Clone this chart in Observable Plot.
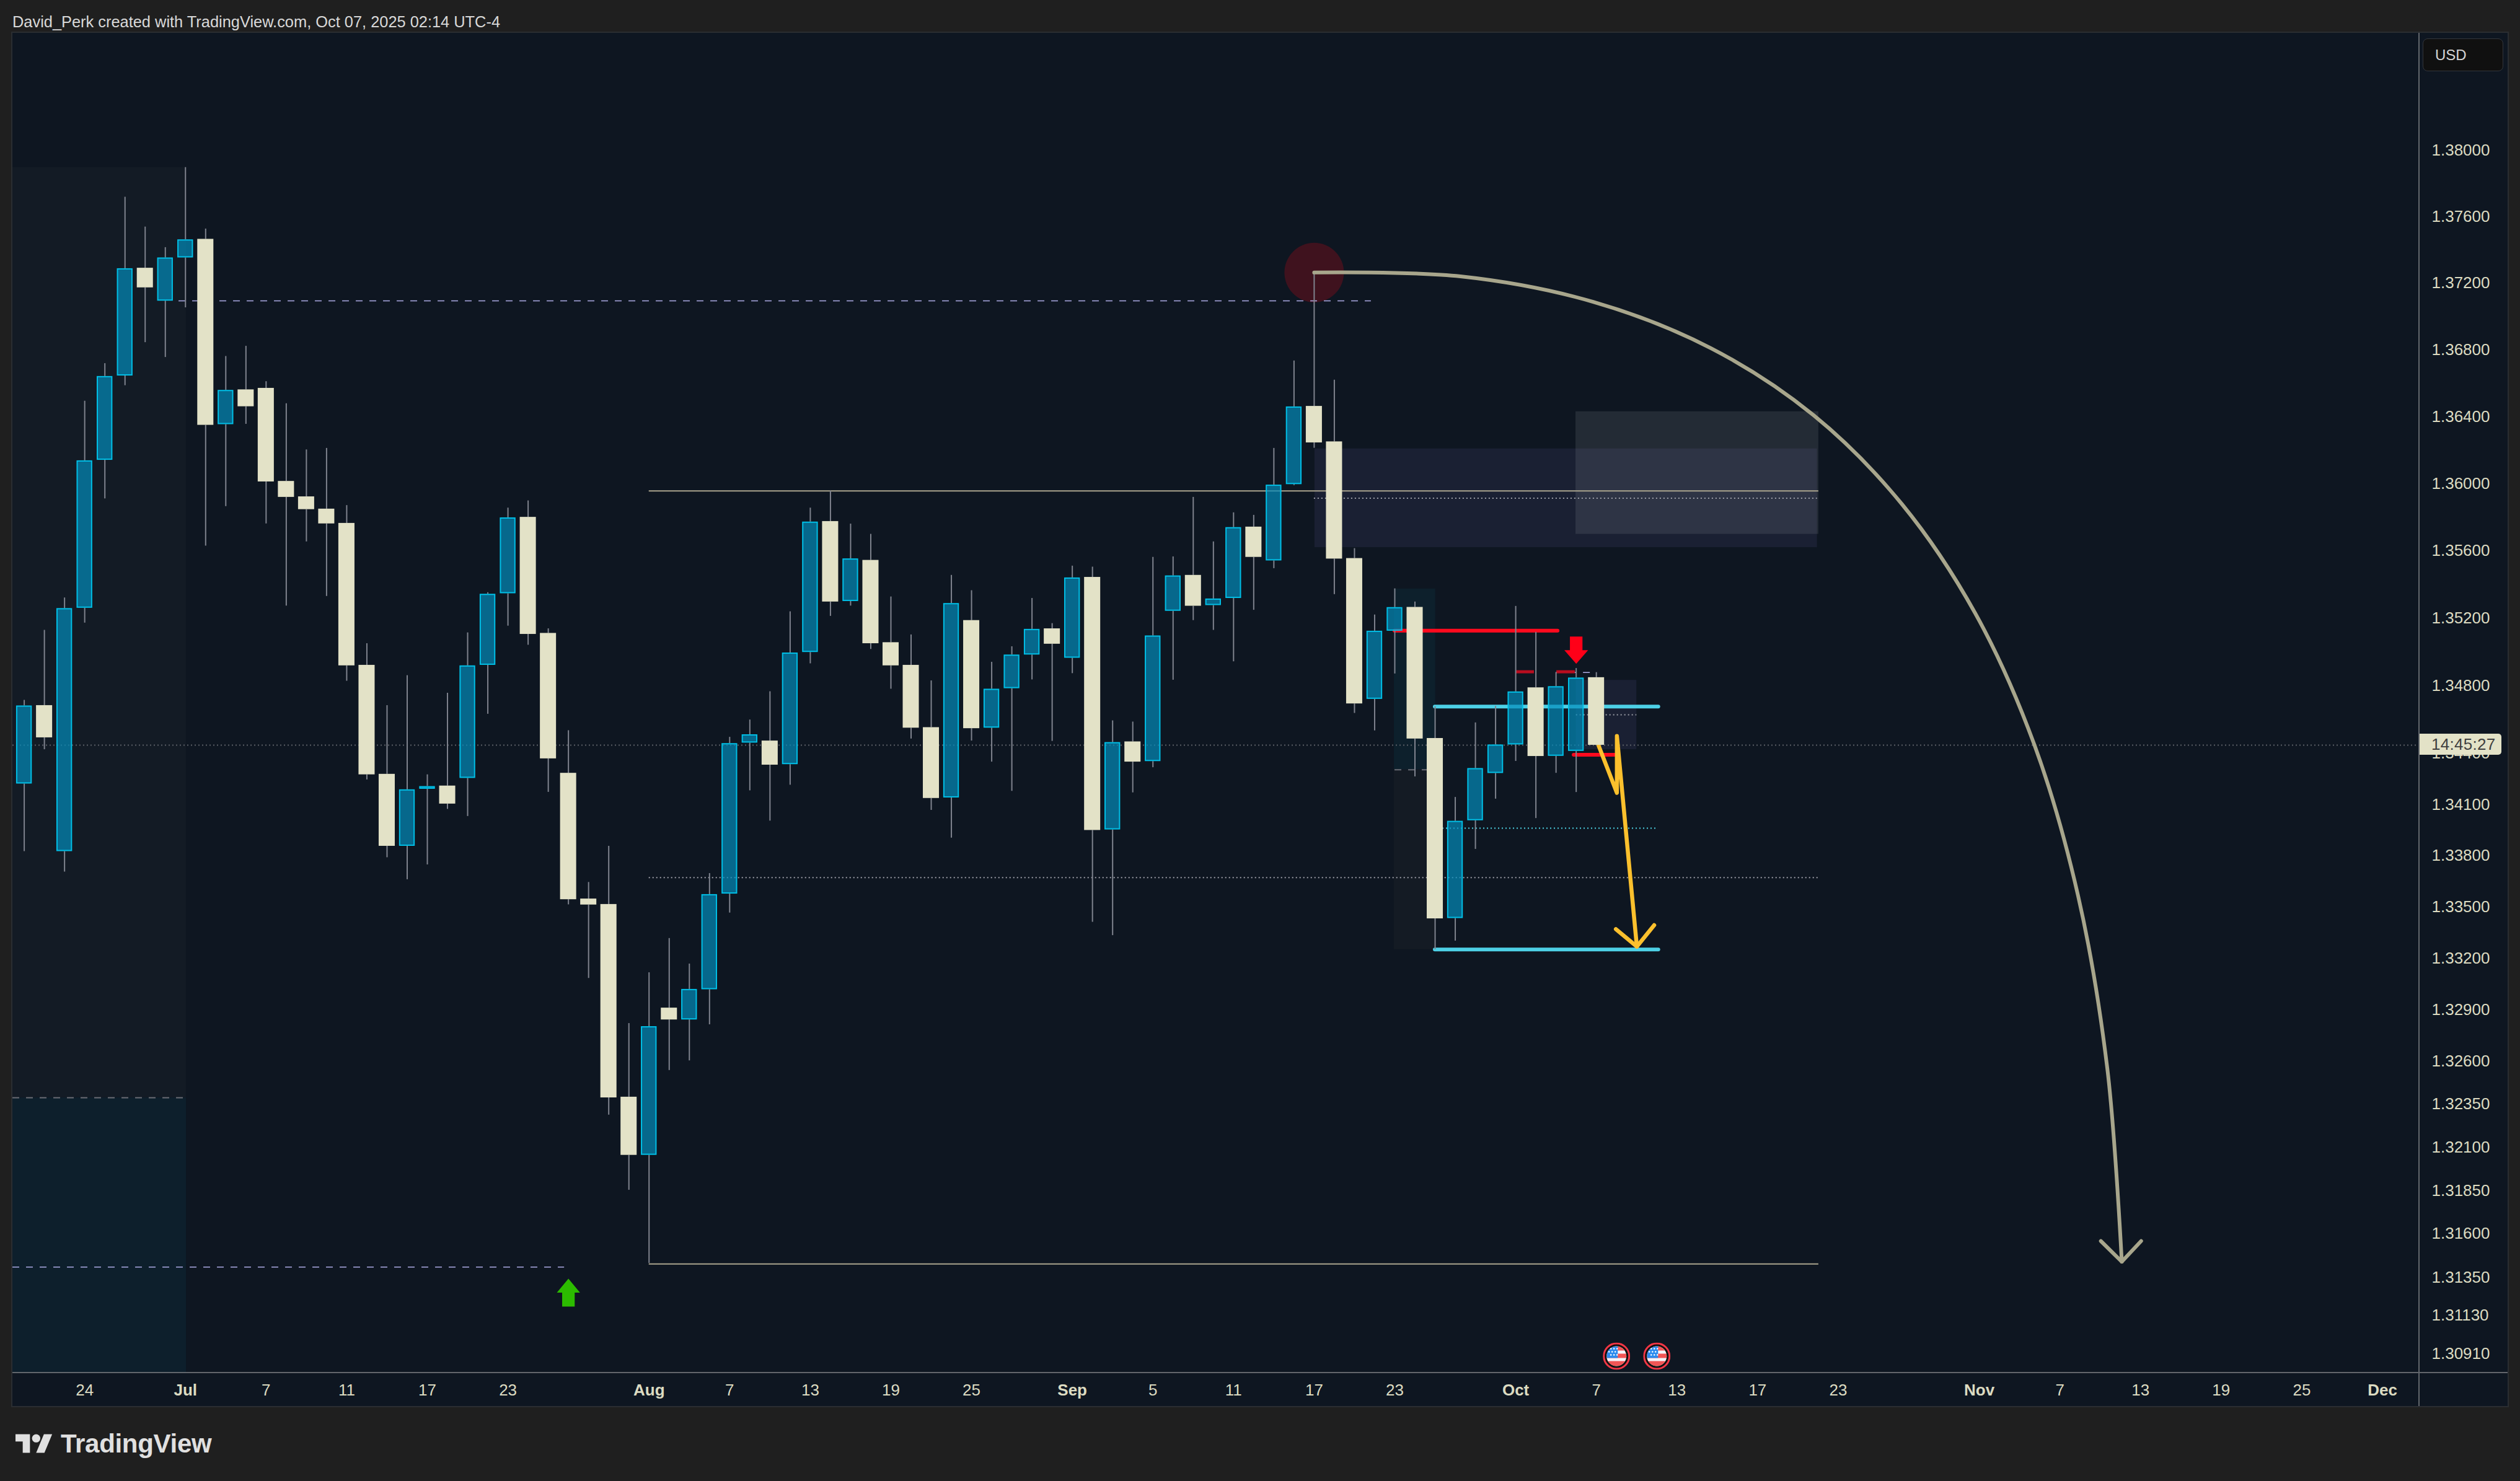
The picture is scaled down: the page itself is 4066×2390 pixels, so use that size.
<!DOCTYPE html>
<html>
<head>
<meta charset="utf-8">
<script src="https://cdn.jsdelivr.net/npm/d3@7"></script>
<script src="https://cdn.jsdelivr.net/npm/@observablehq/plot@0.6"></script>
<style>
  html, body { margin: 0; padding: 0; background: #1f1f1f; width: 4066px; height: 2390px; overflow: hidden; }
  body { font-family: "Liberation Sans", sans-serif; position: relative; }
  #header { height: 53px; box-sizing: border-box; padding: 20px 0 0 20px; font-size: 25.4px; line-height: 30px; color: #d9d9d9; }
  #panel { position: absolute; left: 20px; top: 53px; width: 4026px; height: 2216px; background: #0e1621; outline: 2px solid #2a2d31; }
  #panel svg { display: block; position: absolute; left: 0; top: 0; }
  .vline { position: absolute; left: 3882px; top: 0; width: 2px; height: 2216px; background: #62666c; }
  .hline { position: absolute; left: 0; top: 2161px; width: 4026px; height: 2px; background: #62666c; }
  #usd { position: absolute; left: 3889px; top: 9px; width: 130px; height: 53px; box-sizing: border-box; background: #101010; border: 1px solid #33363b; border-radius: 8px; color: #d5d5d5; font-size: 24px; line-height: 51px; padding-left: 19px; }
  #clock { position: absolute; left: 3884px; top: 1131px; width: 132px; height: 34px; background: #e3e2c7; border-radius: 0 5px 5px 0; color: #3f3f3f; font-size: 26px; line-height: 35px; box-sizing: border-box; padding-left: 19px; letter-spacing: 0.3px; }
  #footer { position: absolute; left: 25px; top: 2314px; height: 40px; display: flex; align-items: flex-start; }
  #footer span { position: absolute; left: 73px; top: -9px; font-size: 42px; line-height: 50px; font-weight: 700; color: #e0e0e0; letter-spacing: -0.3px; }
</style>
</head>
<body>
<div id="header">David_Perk created with TradingView.com, Oct 07, 2025 02:14 UTC-4</div>
<div id="panel"></div>
<div id="footer">
  <svg width="60" height="31" viewBox="0 4 36 18"><path fill="#e0e0e0" d="M14 22H7V11H0V4h14v18zM28 22h-8l7.5-18h8L28 22z"/><circle fill="#e0e0e0" cx="20" cy="8" r="4"/></svg>
  <span>TradingView</span>
</div>
<script>
// Daily candles, one per weekday, first bar = 19 Jun 2025, last bar = 7 Oct 2025
const opens  = [1.34218,1.34680,1.33821,1.35256,1.36136,1.36640,1.37287,1.37089,1.37349,1.37461,1.36349,1.36557,1.36566,1.36010,1.35918,1.35845,1.35760,1.34918,1.34275,1.33852,1.34187,1.34206,1.34251,1.34918,1.35342,1.35796,1.35107,1.34281,1.33543,1.33511,1.32388,1.32051,1.32906,1.32837,1.33013,1.33572,1.34459,1.34471,1.34332,1.34994,1.35771,1.35296,1.35540,1.35052,1.34918,1.34550,1.34136,1.35183,1.34547,1.34780,1.34979,1.35134,1.34960,1.35439,1.33948,1.34466,1.34350,1.35238,1.35451,1.35272,1.35314,1.35738,1.35537,1.35991,1.36458,1.36246,1.35551,1.34717,1.35120,1.35261,1.34486,1.33429,1.34002,1.34280,1.34448,1.34785,1.34381,1.34410,1.34845];
const highs  = [1.34711,1.35125,1.35317,1.36489,1.36714,1.37715,1.37535,1.37411,1.37894,1.37523,1.36757,1.36818,1.36606,1.36474,1.36198,1.36207,1.35866,1.35046,1.34680,1.34857,1.34272,1.34753,1.35110,1.35348,1.35851,1.35894,1.35134,1.34532,1.33640,1.33852,1.32816,1.33112,1.33312,1.33163,1.33692,1.34493,1.34595,1.34762,1.35235,1.35851,1.35952,1.35756,1.35695,1.35323,1.35098,1.34826,1.35451,1.35360,1.34936,1.35028,1.35314,1.35165,1.35506,1.35500,1.34590,1.34583,1.35558,1.35561,1.35915,1.35650,1.35823,1.35808,1.36207,1.36730,1.37260,1.36615,1.35610,1.35216,1.35371,1.35293,1.34673,1.34139,1.34578,1.34676,1.35267,1.35113,1.34875,1.34899,1.34875];
const lows   = [1.33821,1.34420,1.33701,1.35168,1.35906,1.36582,1.36840,1.36751,1.37049,1.35625,1.35860,1.36351,1.35757,1.35269,1.35650,1.35326,1.34824,1.34242,1.33785,1.33656,1.33743,1.34069,1.34027,1.34629,1.35150,1.35037,1.34169,1.33509,1.33079,1.32284,1.31849,1.31427,1.32543,1.32599,1.32809,1.33461,1.34178,1.34000,1.34211,1.34927,1.35208,1.35269,1.35012,1.34777,1.34483,1.34063,1.33900,1.34471,1.34347,1.34175,1.34832,1.34469,1.34869,1.33407,1.33329,1.34166,1.34314,1.34830,1.35183,1.35125,1.34939,1.35244,1.35491,1.35985,1.36208,1.35337,1.34634,1.34531,1.34867,1.34260,1.33247,1.33297,1.33834,1.34129,1.34351,1.34015,1.34281,1.34168,1.34442];
const closes = [1.34678,1.34490,1.35254,1.36133,1.36637,1.37284,1.37169,1.37349,1.37458,1.36345,1.36554,1.36456,1.36007,1.35915,1.35842,1.35757,1.34915,1.34272,1.33852,1.34184,1.34203,1.34100,1.34915,1.35339,1.35793,1.35101,1.34366,1.33539,1.33508,1.32384,1.32051,1.32798,1.32837,1.33015,1.33569,1.34456,1.34508,1.34329,1.34991,1.35768,1.35293,1.35549,1.35046,1.34915,1.34547,1.34133,1.35284,1.34544,1.34777,1.34979,1.35131,1.35043,1.35436,1.33945,1.34462,1.34347,1.35092,1.35448,1.35268,1.35311,1.35735,1.35558,1.35988,1.36455,1.36240,1.35548,1.34690,1.35120,1.35260,1.34483,1.33427,1.33999,1.34309,1.34448,1.34761,1.34380,1.34792,1.34843,1.34446];

// Axes
const priceTicks = [1.38,1.376,1.372,1.368,1.364,1.36,1.356,1.352,1.348,1.344,1.341,1.338,1.335,1.332,1.329,1.326,1.3235,1.321,1.3185,1.316,1.3135,1.3113,1.3091];
const dayBars    = [3,12,16,20,24,35,39,43,47,56,60,64,68,78,82,86,90,101,105,109,113];
const dayLabels  = ["24","7","11","17","23","7","13","19","25","5","11","17","23","7","13","17","23","7","13","19","25"];
const monthBars  = [8,31,52,74,97,117];
const monthLabels= ["Jul","Aug","Sep","Oct","Nov","Dec"];
const barDomain  = [-0.572,118.83];
const priceDomain= [1.30797,1.38708];

// Drawing tools, in bar / price units
const lastPrice = [1.34446];
const leftZones = [{b1:-0.572,b2:8.04,p1:1.37894,p2:1.32384,c:"#131b25"},{b1:-0.572,b2:8.04,p1:1.32384,p2:1.30797,c:"#0d1f2c"}];
const backZones = [
  {b1:67.97,b2:70.02,p1:1.35370,p2:1.34301,c:"#0d202c"},
  {b1:67.97,b2:70.02,p1:1.34301,p2:1.33247,c:"#141b24"},
  {b1:64.03,b2:88.96,p1:1.36204,p2:1.35616,c:"#1a2033"},
  {b1:76.98,b2:89.03,p1:1.36426,p2:1.35695,c:"#ffffff",o:0.09},
  {b1:77,b2:80,p1:1.34829,p2:1.34420,c:"#1a2033"}
];
const tanLines   = [{p:1.35952,b1:31,b2:89.03},{p:1.31423,b1:31,b2:89.03}];
const whiteDots  = [{p:1.33668,b1:31,b2:89.03},{p:1.35909,b1:64,b2:88.96},{p:1.34625,b1:77,b2:80}];
const cyanDots   = [{p:1.33957,b1:70,b2:80.97}];
const lavDashes  = [{p:1.37090,b1:7.67,b2:66.83},{p:1.31405,b1:-0.572,b2:26.8},{p:1.34875,b1:76,b2:77.7}];
const grayDashes = [{p:1.32384,b1:-0.572,b2:8.04},{p:1.34301,b1:68,b2:70}];
const redThick   = [{p:1.35122,b1:68,b2:76.09},{p:1.34389,b1:76.89,b2:79}];
const redDark    = [{p:1.34879,b1:74,b2:74.92},{p:1.34879,b1:76.03,b2:76.95}];
const cyanThick  = [{p:1.34673,b1:70,b2:81.09},{p:1.33247,b1:70,b2:81.09}];
const yellowPath = [[78.09,1.34450],[79.02,1.34165],[79.02,1.34500],[80.01,1.33264]];
const yellowHead = [[78.97,1.33366],[80.01,1.33264],[80.87,1.33389]];
const curvePath  = [[64,1.37260],[71.26,1.37237],[77.84,1.37084],[83.68,1.36806],[88.78,1.36404],[93.16,1.35874],[96.80,1.35225],[99.72,1.34452],[101.90,1.33562],[103.35,1.32555],[104.07,1.31436]];
const curveHead  = [[103.03,1.31555],[104.07,1.31436],[105.03,1.31555]];
const peakDot    = [[64,1.37260]];
const upMarks    = [[27,1.31258]];
const downMarks  = [[77,1.35007]];
const eventMarks = [[79,1.30893],[81,1.30893]];

const candles = opens.map((o,i)=>({bar:i,o,h:highs[i],l:lows[i],c:closes[i],top:Math.max(o,closes[i]),bot:Math.min(o,closes[i])}));
const rising = candles.filter(d=>d.c>=d.o);
const falling = candles.filter(d=>d.c<d.o);

const arrowUp = {draw(ctx,size){const r=Math.sqrt(size/Math.PI);ctx.moveTo(0,-r);ctx.lineTo(.83*r,0);ctx.lineTo(.45*r,0);ctx.lineTo(.45*r,r);ctx.lineTo(-.45*r,r);ctx.lineTo(-.45*r,0);ctx.lineTo(-.83*r,0);ctx.closePath();}};
const arrowDown = {draw(ctx,size){const r=Math.sqrt(size/Math.PI);ctx.moveTo(0,r);ctx.lineTo(.87*r,0);ctx.lineTo(.46*r,0);ctx.lineTo(.46*r,-r);ctx.lineTo(-.46*r,-r);ctx.lineTo(-.46*r,0);ctx.lineTo(-.87*r,0);ctx.closePath();}};

const stars = [[-10,-11],[-5,-11],[0,-11],[-13,-6],[-8,-6],[-3,-6],[-10,-1],[-5,-1],[0,-1]].map(([a,b])=>`<circle cx="${22+a+1}" cy="${22+b-1}" r="1.3" fill="#fff"/>`).join("");
const flagSvg = `<svg xmlns="http://www.w3.org/2000/svg" width="44" height="44" viewBox="0 0 44 44"><defs><clipPath id="c"><circle cx="22" cy="22" r="16"/></clipPath></defs><circle cx="22" cy="22" r="20.5" fill="#111" stroke="#f23645" stroke-width="3"/><g clip-path="url(#c)"><rect width="44" height="44" fill="#f5f5fa"/><rect y="6" width="44" height="7" fill="#f25555"/><rect y="18" width="44" height="7" fill="#f25555"/><rect y="30" width="44" height="8" fill="#f25555"/><rect x="6" y="6" width="18" height="19" fill="#2b8bee"/>${stars}</g></svg>`;
const flagUri = "data:image/svg+xml," + encodeURIComponent(flagSvg);

const hl = (rows, opts) => Plot.ruleY(rows, {y:"p", x1:"b1", x2:"b2", ...opts});

const chart = Plot.plot({
  width: 4026, height: 2216,
  marginLeft: 0, marginRight: 143, marginTop: 0, marginBottom: 54,
  style: {background:"transparent", color:"#dcdbc1", fontFamily:'"Liberation Sans", sans-serif', fontSize:"26px"},
  x: {type:"linear", domain: barDomain, label:null},
  y: {type:"log", domain: priceDomain, label:null},
  marks: [
    Plot.rect(leftZones, {x1:"b1", x2:"b2", y1:"p1", y2:"p2", fill:"c"}),
    Plot.rect(backZones, {x1:"b1", x2:"b2", y1:"p1", y2:"p2", fill:"c", fillOpacity:d=>d.o ?? 1}),
    Plot.dot(peakDot, {x:"0", y:"1", r:48, fill:"#3f121e"}),
    Plot.ruleY(lastPrice, {stroke:"#5a5e66", strokeWidth:2, strokeDasharray:"2 4"}),
    hl(tanLines, {stroke:"#aaa48e", strokeWidth:2}),
    hl(whiteDots, {stroke:"#9a9da6", strokeWidth:2, strokeDasharray:"2 4"}),
    hl(cyanDots, {stroke:"#4dd0e1", strokeWidth:2, strokeDasharray:"2 4"}),
    hl(lavDashes, {stroke:"#aeacE6", strokeWidth:1.6, strokeDasharray:"11 11"}),
    hl(grayDashes, {stroke:"#6a6d75", strokeWidth:2, strokeDasharray:"11 11"}),
    hl(redThick, {stroke:"#ff0a1e", strokeWidth:6, strokeLinecap:"round"}),
    hl(redDark, {stroke:"#b80d1f", strokeWidth:5}),
    hl(cyanThick, {stroke:"#4dd0e6", strokeWidth:6, strokeLinecap:"round"}),
    Plot.line(yellowPath, {x:"0", y:"1", stroke:"#fbc02d", strokeWidth:6.5, strokeLinecap:"round", strokeLinejoin:"round"}),
    Plot.line(yellowHead, {x:"0", y:"1", stroke:"#fbc02d", strokeWidth:6.5, strokeLinecap:"round", strokeLinejoin:"round"}),
    Plot.ruleX(candles, {x:"bar", y1:"h", y2:"top", stroke:"#7f838e", strokeWidth:2}),
    Plot.ruleX(candles, {x:"bar", y1:"bot", y2:"l", stroke:"#7f838e", strokeWidth:2}),
    Plot.rect(rising, {x1:d=>d.bar-0.39, x2:d=>d.bar+0.39, y1:"o", y2:"c", fill:"#038cba", fillOpacity:0.7, stroke:"#00bfe6", strokeWidth:2, inset:1}),
    Plot.rect(falling, {x1:d=>d.bar-0.4, x2:d=>d.bar+0.4, y1:"o", y2:"c", fill:"#e3e2c7"}),
    Plot.line(curvePath, {x:"0", y:"1", curve:"catmull-rom", stroke:"#a8a68c", strokeWidth:6, strokeLinecap:"round"}),
    Plot.line(curveHead, {x:"0", y:"1", stroke:"#a8a68c", strokeWidth:6, strokeLinecap:"round", strokeLinejoin:"round"}),
    Plot.dot(upMarks, {x:"0", y:"1", r:22.5, symbol:arrowUp, fill:"#2cbc00"}),
    Plot.dot(downMarks, {x:"0", y:"1", r:22, symbol:arrowDown, fill:"#ff0018"}),
    Plot.image(eventMarks, {x:"0", y:"1", src:flagUri, width:44, height:44}),
    Plot.axisY(priceTicks, {anchor:"right", tickSize:0, tickPadding:20, tickFormat:d=>d.toFixed(5), label:null, fontSize:26, dy:1}),
    Plot.axisX(dayBars, {anchor:"bottom", tickSize:0, tickPadding:18, tickFormat:d=>dayLabels[dayBars.indexOf(d)], label:null, fontSize:26}),
    Plot.axisX(monthBars, {anchor:"bottom", tickSize:0, tickPadding:18, tickFormat:d=>monthLabels[monthBars.indexOf(d)], label:null, fontSize:26, fontWeight:"bold"})
  ]
});
const panel = document.getElementById("panel");
panel.appendChild(chart);
panel.insertAdjacentHTML("beforeend", '<div class="vline"></div><div class="hline"></div><div id="usd">USD</div><div id="clock">14:45:27</div>');
</script>
</body>
</html>
